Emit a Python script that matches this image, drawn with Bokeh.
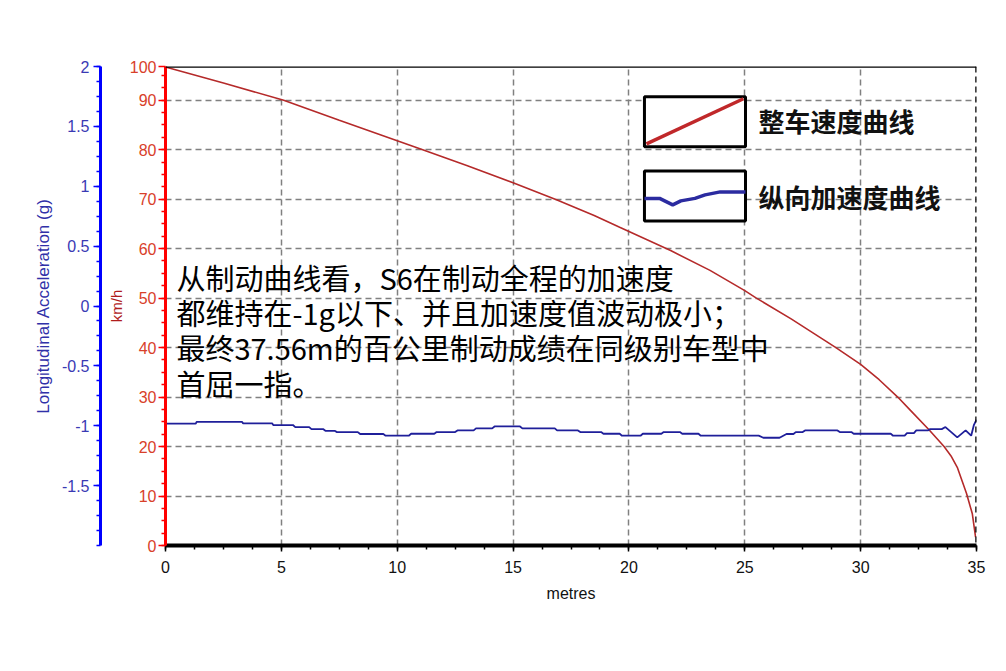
import numpy as np
from bokeh.plotting import figure
from bokeh.models import Range1d, LinearAxis, FixedTicker, Span, Label
from bokeh.embed import file_html
from bokeh.resources import INLINE

# ---------------- data ----------------
DIST_SPEED = [0, 2.5, 5.1, 7.5, 10, 11.1, 13, 15, 16.9, 18.5, 19.6, 21.8, 23.5,
              25, 25.5, 27, 28.9, 30, 30.8, 31.6, 32.15, 32.95, 33.6, 33.9,
              34.17, 34.57, 34.82, 34.96]
SPEED_KMH = [96.7, 93.45, 90, 85.95, 81.8, 80, 76.8, 73.3, 69.8, 66.7, 64.3, 59.6,
             55.6, 51.5, 50, 45.8, 40.1, 36.6, 33.5, 30, 27.3, 23.4, 20, 18.1,
             15.8, 10.5, 6.4, 1.7]

DIST_ACC = [0, 1.3, 1.35, 3.3, 3.35, 4.6, 4.65, 5.5, 5.6, 6.2, 6.3, 6.8, 6.9, 7.3,
            7.4, 8.3, 8.4, 9.4, 9.5, 10.5, 10.6, 11.6, 11.7, 12.5, 12.6, 13.3,
            13.4, 14.1, 14.2, 15.3, 15.4, 16.8, 16.9, 17.8, 17.9, 18.8, 18.9,
            19.6, 19.7, 20.5, 20.6, 21.4, 21.5, 22.2, 22.3, 23.0, 23.1, 25.6,
            25.8, 26.5, 26.8, 27.1, 27.2, 27.5, 27.6, 29.0, 29.1, 29.6, 29.7,
            31.3, 31.4, 31.9, 32.0, 32.3, 32.4, 32.9, 33.0, 33.5, 33.66, 34.17,
            34.53, 34.77, 34.89, 35.0]
ACC_G = [-0.983, -0.983, -0.967, -0.967, -0.98, -0.98, -0.994, -0.994, -1.011,
         -1.011, -1.028, -1.028, -1.042, -1.042, -1.053, -1.053, -1.069, -1.069,
         -1.083, -1.083, -1.067, -1.067, -1.053, -1.053, -1.039, -1.039, -1.022,
         -1.022, -1.006, -1.006, -1.022, -1.022, -1.039, -1.039, -1.053, -1.053,
         -1.067, -1.067, -1.083, -1.083, -1.067, -1.067, -1.053, -1.053, -1.067,
         -1.067, -1.083, -1.083, -1.1, -1.1, -1.069, -1.069, -1.053, -1.053,
         -1.039, -1.039, -1.053, -1.053, -1.067, -1.067, -1.083, -1.083, -1.061,
         -1.061, -1.039, -1.039, -1.028, -1.028, -1.011, -1.097, -1.039, -1.083,
         -0.992, -0.95]

X_TICKS = [0, 5, 10, 15, 20, 25, 30, 35]
X_TICK_LABELS = ["0", "5", "10", "15", "20", "25", "30", "35"]
SPEED_TICKS = [0, 10, 20, 30, 40, 50, 60, 70, 80, 90]
SPEED_TICK_LABELS = ["0", "10", "20", "30", "40", "50", "60", "70", "80", "90"]
SPEED_TOP_LABEL = "100"
ACC_TICKS = [-1.5, -1, -0.5, 0, 0.5, 1, 1.5, 2]
ACC_TICK_LABELS = ["-1.5", "-1", "-0.5", "0", "0.5", "1", "1.5", "2"]

X_TITLE = "metres"
SPEED_TITLE = "km/h"
ACC_TITLE = "Longitudinal Acceleration (g)"
LEGEND_LABELS = ["整车速度曲线", "纵向加速度曲线"]
NOTE_LINES = ["从制动曲线看，S6在制动全程的加速度",
              "都维持在-1g以下、并且加速度值波动极小；",
              "最终37.56m的百公里制动成绩在同级别车型中",
              "首屈一指。"]

# ---------------- scales ----------------
X_MAX = 35
SPEED_AXIS_TOP = 96.8
ACC_MIN, ACC_MAX = -2, 2

AX_FONT = "Liberation Sans"
CJK_FONT = "Noto Sans CJK SC"

p = figure(width=1000, height=665,
           x_range=Range1d(0, X_MAX), y_range=Range1d(0, SPEED_AXIS_TOP),
           output_backend="svg", toolbar_location=None,
           min_border_left=165, min_border_right=24,
           min_border_top=66, min_border_bottom=120)
p.extra_y_ranges = {"acc": Range1d(ACC_MIN, ACC_MAX)}
p.outline_line_color = None
p.background_fill_color = "white"
p.border_fill_color = "white"

# grid
p.xgrid.ticker = FixedTicker(ticks=X_TICKS[1:-1])
p.ygrid.ticker = FixedTicker(ticks=SPEED_TICKS[1:])
for g in (p.xgrid[0], p.ygrid[0]):
    g.grid_line_color = "#808080"
    g.grid_line_dash = "6 4"
    g.grid_line_width = 1.5

# x axis
xa = p.xaxis[0]
xa.ticker = FixedTicker(ticks=X_TICKS, minor_ticks=[i * 1.25 for i in range(29)])
xa.major_label_overrides = dict(zip(X_TICKS, X_TICK_LABELS))
xa.axis_line_color = "black"
xa.axis_line_width = 4
xa.major_tick_line_color = "black"
xa.major_tick_line_width = 1.5
xa.major_tick_out = 6
xa.major_tick_in = 0
xa.minor_tick_line_color = "black"
xa.minor_tick_line_width = 1.5
xa.minor_tick_out = 4
xa.minor_tick_in = 0
xa.major_label_text_font = AX_FONT
xa.major_label_text_font_size = "16px"
xa.major_label_text_color = "#111111"
xa.major_label_standoff = 9
xa.axis_label = X_TITLE
xa.axis_label_text_font = AX_FONT
xa.axis_label_text_font_size = "16px"
xa.axis_label_text_font_style = "normal"
xa.axis_label_text_color = "#111111"
xa.axis_label_standoff = 9

# speed axis (red)
ya = p.yaxis[0]
ya.ticker = FixedTicker(ticks=SPEED_TICKS + [SPEED_AXIS_TOP],
                        minor_ticks=[i * 2.5 for i in range(39)])
ov = dict(zip(SPEED_TICKS, SPEED_TICK_LABELS))
ov[SPEED_AXIS_TOP] = SPEED_TOP_LABEL
ya.major_label_overrides = ov
ya.axis_line_color = "#ff0000"
ya.axis_line_width = 3
ya.major_tick_line_color = "#ff0000"
ya.major_tick_line_width = 1.5
ya.major_tick_out = 7
ya.major_tick_in = 0
ya.minor_tick_line_color = "#ff0000"
ya.minor_tick_line_width = 1.5
ya.minor_tick_out = 4
ya.minor_tick_in = 0
ya.major_label_text_font = AX_FONT
ya.major_label_text_font_size = "16px"
ya.major_label_text_color = "#d8402a"
ya.major_label_standoff = 2
ya.axis_label = SPEED_TITLE
ya.axis_label_text_font = AX_FONT
ya.axis_label_text_font_size = "15px"
ya.axis_label_text_font_style = "normal"
ya.axis_label_text_color = "#b01c1c"
ya.axis_label_standoff = 2

# invisible spacer between the two left axes
sp = LinearAxis(y_range_name="acc", ticker=FixedTicker(ticks=[]))
sp.axis_line_color = None
sp.major_tick_line_color = None
sp.minor_tick_line_color = None
sp.major_tick_out = 0
sp.minor_tick_out = 0
sp.major_label_standoff = 0
sp.axis_label = " "
sp.axis_label_text_font_size = "1px"
sp.axis_label_standoff = 0
p.add_layout(sp, "left")

# acceleration axis (blue)
ba = LinearAxis(y_range_name="acc",
                ticker=FixedTicker(ticks=ACC_TICKS,
                                   minor_ticks=[ACC_MIN + i * 0.125 for i in range(33)]))
ba.major_label_overrides = dict(zip(ACC_TICKS, ACC_TICK_LABELS))
ba.axis_line_color = "#0000ff"
ba.axis_line_width = 3
ba.major_tick_line_color = "#0000ff"
ba.major_tick_line_width = 1.5
ba.major_tick_out = 7
ba.major_tick_in = 0
ba.minor_tick_line_color = "#0000ff"
ba.minor_tick_line_width = 1.5
ba.minor_tick_out = 4
ba.minor_tick_in = 0
ba.major_label_text_font = AX_FONT
ba.major_label_text_font_size = "16px"
ba.major_label_text_color = "#3a3ab4"
ba.major_label_standoff = 4
ba.axis_label = ACC_TITLE
ba.axis_label_text_font = AX_FONT
ba.axis_label_text_font_size = "17px"
ba.axis_label_text_font_style = "normal"
ba.axis_label_text_color = "#3030a8"
ba.axis_label_standoff = 6
p.add_layout(ba, "left")

# frame edges
p.add_layout(Span(location=SPEED_AXIS_TOP, dimension="width", line_color="black", line_width=2.5))
p.add_layout(Span(location=X_MAX, dimension="height", line_color="black",
                  line_width=2.5, line_dash="6 4"))
p.add_layout(Span(location=X_MAX + 0.08, dimension="height", line_color="#9fe8ee",
                  line_width=1.5))

# series
p.line(DIST_SPEED, SPEED_KMH, line_color="#b52a2a", line_width=1.6)
p.line(DIST_ACC, ACC_G, y_range_name="acc", line_color="#1f1f9a", line_width=1.8)

# ---------------- legend (hand drawn) ----------------
LX0, LX1 = 20.67, 25.03
BOX1 = (80.56, 90.68)
BOX2 = (65.6, 75.7)
p.quad(left=[LX0, LX0], right=[LX1, LX1], bottom=[BOX1[0], BOX2[0]], top=[BOX1[1], BOX2[1]],
       fill_color="white", line_color="black", line_width=3)
w = LX1 - LX0
h1 = BOX1[1] - BOX1[0]
p.line([LX0 + 0.02 * w, LX1 - 0.02 * w], [BOX1[0] + 0.06 * h1, BOX1[1] - 0.04 * h1],
       line_color="#c0282a", line_width=3.5)
h2 = BOX2[1] - BOX2[0]
fx = [0.0, 0.15, 0.22, 0.28, 0.36, 0.5, 0.6, 0.75, 1.0]
fy = [0.55, 0.55, 0.62, 0.68, 0.60, 0.55, 0.48, 0.42, 0.42]
p.line([LX0 + f * w for f in fx], [BOX2[1] - f * h2 for f in fy],
       line_color="#2b2ba0", line_width=3.5)
for txt, yy in zip(LEGEND_LABELS, [85.96, 70.6]):
    p.add_layout(Label(x=25.59, y=yy, text=txt, text_font=CJK_FONT, text_font_size="26px",
                       text_font_style="bold", text_color="#111111", text_baseline="middle"))

# ---------------- note ----------------
for txt, yy in zip(NOTE_LINES, [54.27, 47.19, 40.11, 32.77]):
    p.add_layout(Label(x=0.47, y=yy, text=txt, text_font=CJK_FONT, text_font_size="29px",
                       text_color="#000000", text_baseline="middle"))

open("out.html", "w").write(file_html(p, INLINE))
